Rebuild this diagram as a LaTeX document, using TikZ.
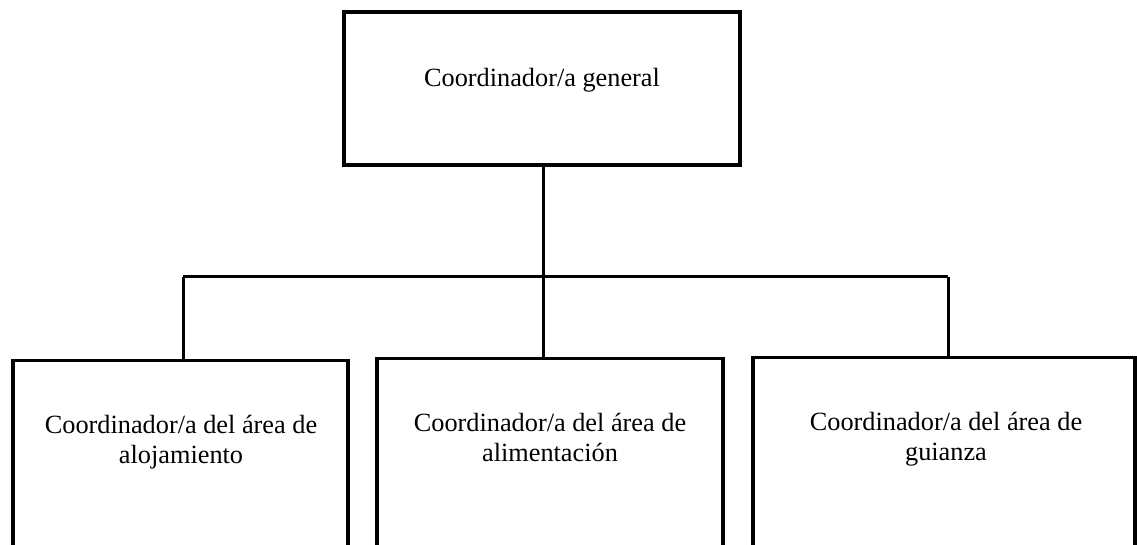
\documentclass[tikz,border=0pt]{standalone}
\usepackage{fontspec}
\setmainfont{Liberation Serif}
\begin{document}
\begin{tikzpicture}[x=1pt,y=1pt,
  box/.style={draw=black,line width=3.4pt,fill=none,rectangle,inner sep=0pt},
  conn/.style={draw=black,line width=3pt},
  lbl/.style={font=\fontsize{26.3}{30}\selectfont,align=center,anchor=base,inner sep=0pt}]
\useasboundingbox (0,0) rectangle (1137,544);
\clip (0,0) rectangle (1137,544);
% top box
\node[box,minimum width=396pt,minimum height=153pt] (top) at (542,455.5) {};
% bottom boxes (extend below the page edge)
\node[box,minimum width=335pt,minimum height=220pt,anchor=north] (b1) at (180.5,185) {};
\node[box,minimum width=346pt,minimum height=220pt,anchor=north] (b2) at (550,187) {};
\node[box,minimum width=382pt,minimum height=220pt,anchor=north] (b3) at (944,188) {};
% labels
\node[lbl] (t0) at (542,457) {Coordinador/a general};
\node[lbl] (t1) at (181,81) {Coordinador/a del área de\\alojamiento};
\node[lbl] (t2) at (550,83) {Coordinador/a del área de\\alimentación};
\node[lbl] (t3) at (946,84) {Coordinador/a del área de\\guianza};
% connectors
\coordinate (j) at (543,267);
\coordinate (jl) at (183,267);
\coordinate (jr) at (948,267);
\draw[conn] (top.south -| j) -- (j |- b2.north);
\draw[conn] (jl) -- (jr);
\draw[conn] (jl) -- (jl |- b1.north);
\draw[conn] (jr) -- (jr |- b3.north);
\end{tikzpicture}
\end{document}
